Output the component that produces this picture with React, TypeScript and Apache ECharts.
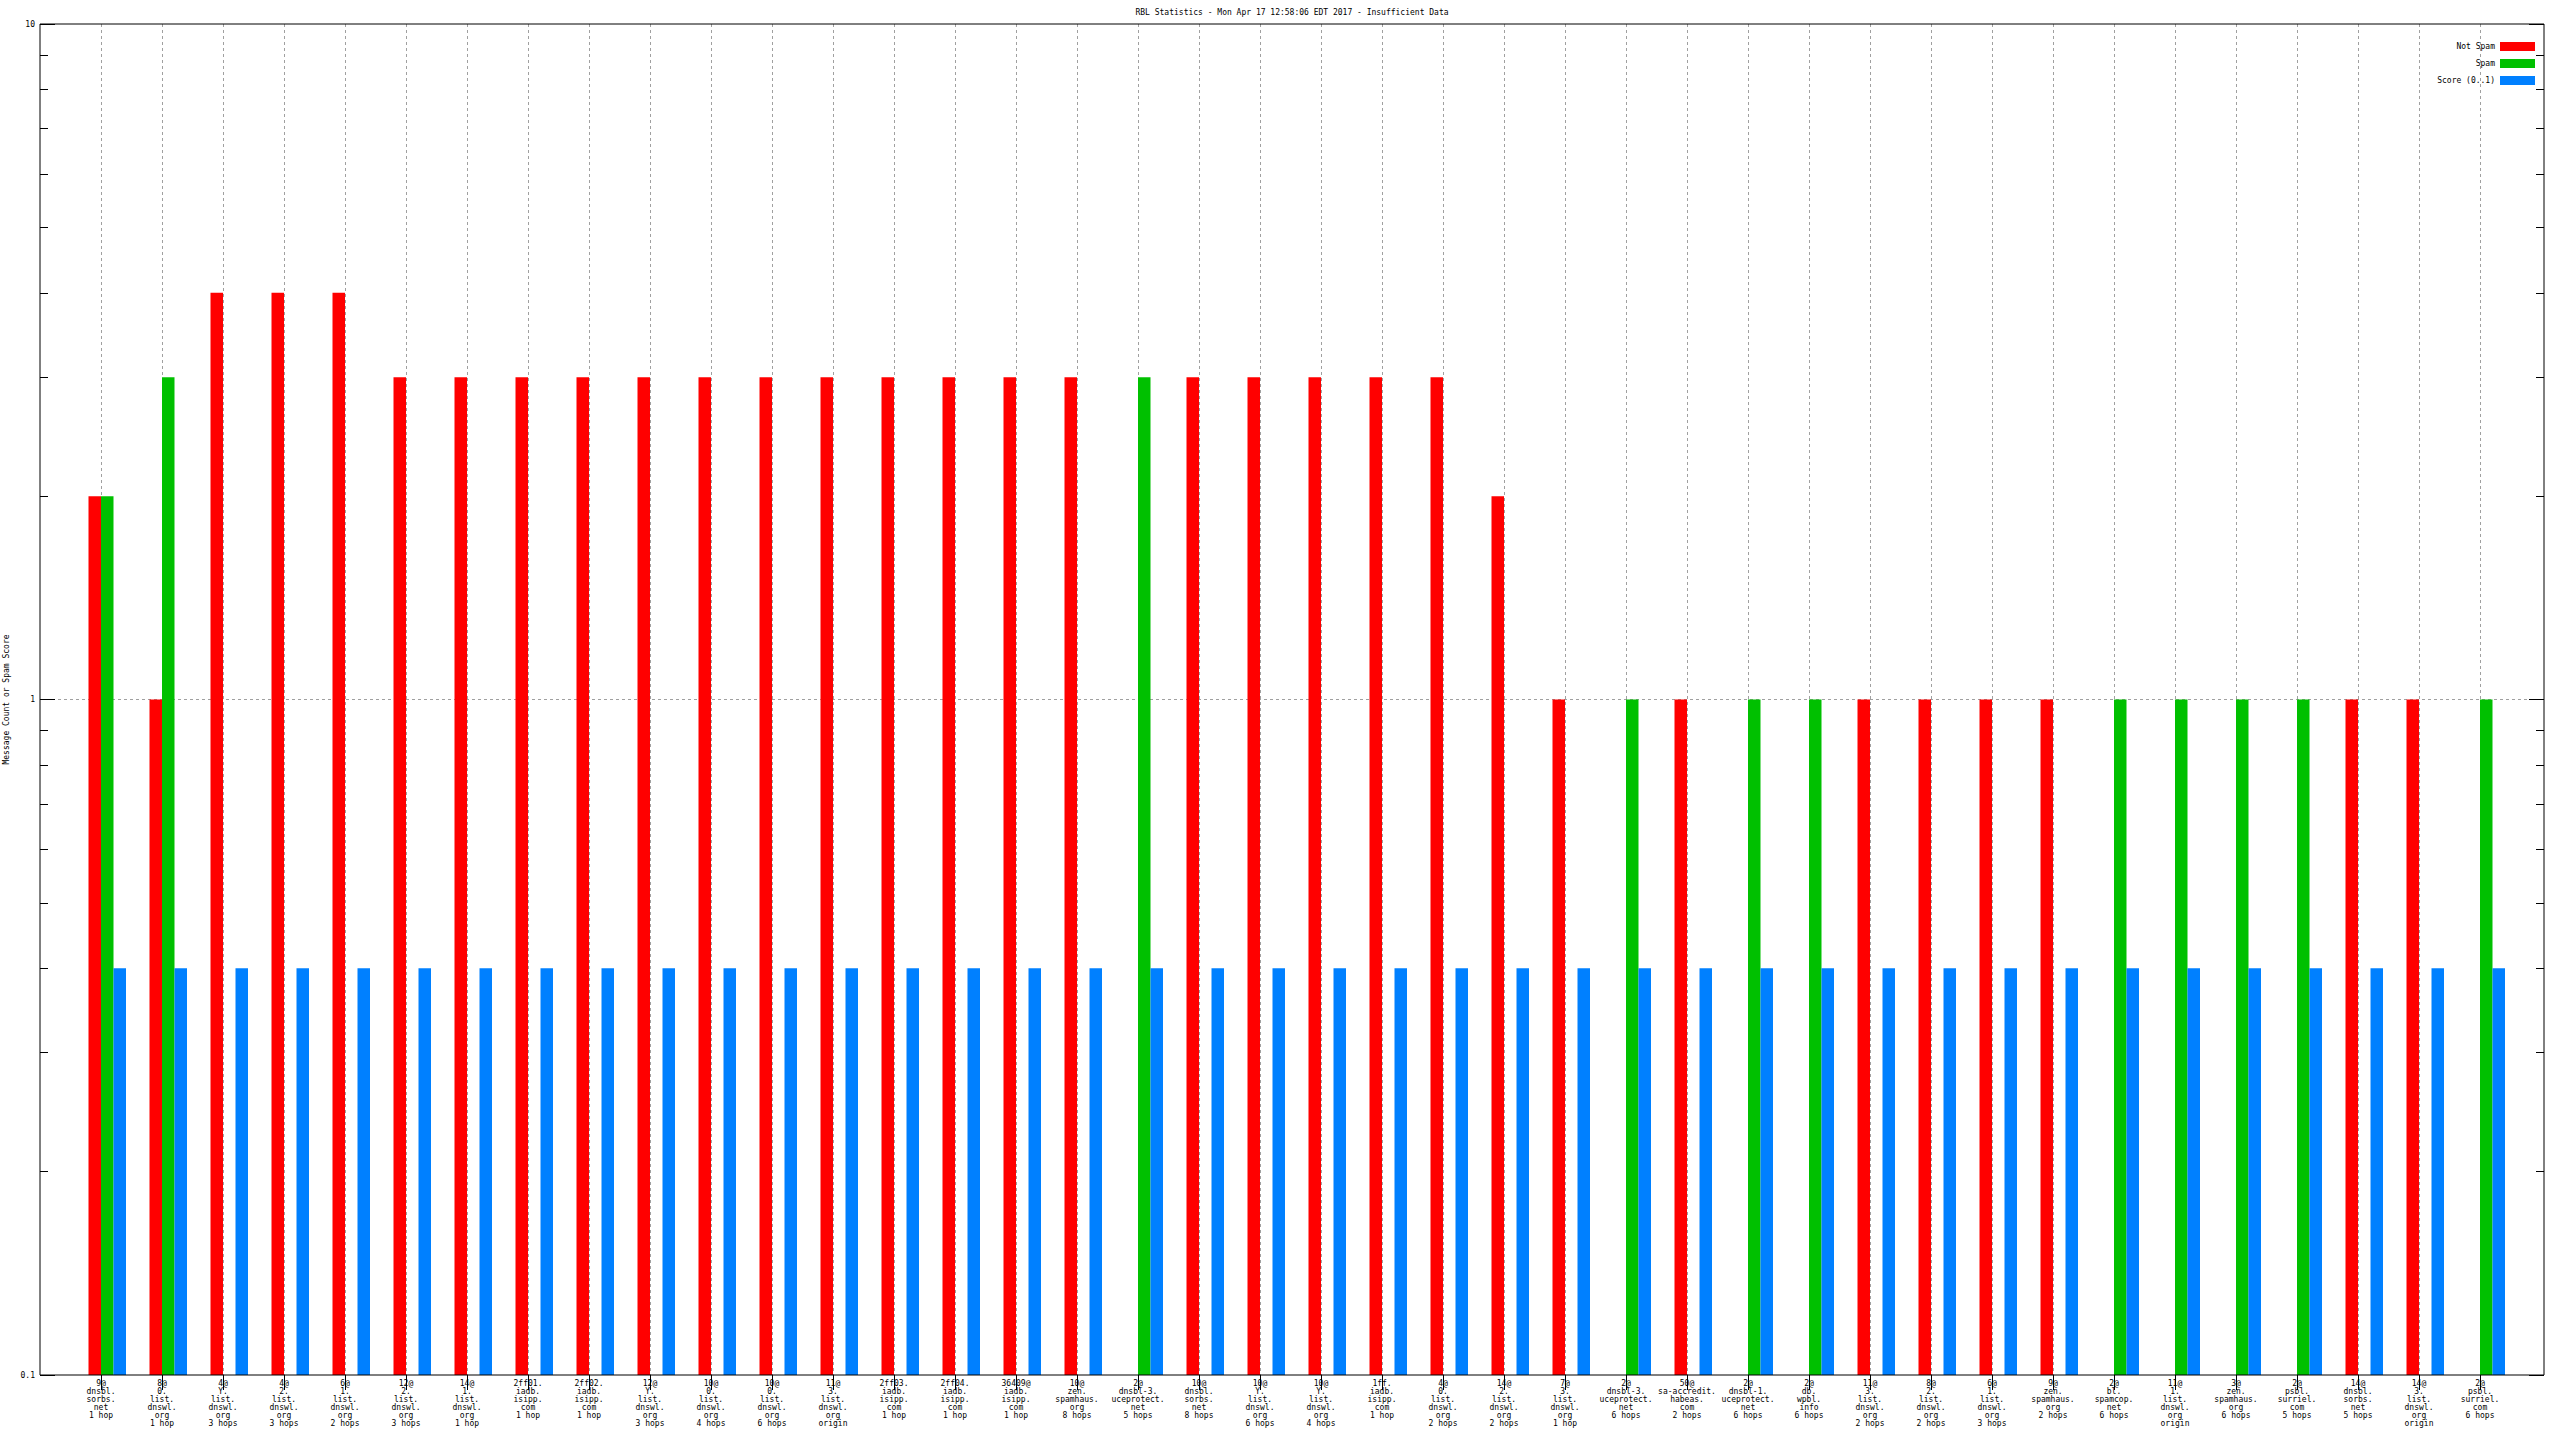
import React, { useEffect, useRef } from 'react';
import * as echarts from 'echarts';

const categories: string[] = [
  '9@\ndnsbl.\nsorbs.\nnet\n1 hop',
  '8@\n0.\nlist.\ndnswl.\norg\n1 hop',
  '4@\nY.\nlist.\ndnswl.\norg\n3 hops',
  '4@\n2.\nlist.\ndnswl.\norg\n3 hops',
  '6@\n1.\nlist.\ndnswl.\norg\n2 hops',
  '12@\n2.\nlist.\ndnswl.\norg\n3 hops',
  '14@\n1.\nlist.\ndnswl.\norg\n1 hop',
  '2ff01.\niadb.\nisipp.\ncom\n1 hop',
  '2ff02.\niadb.\nisipp.\ncom\n1 hop',
  '12@\nY.\nlist.\ndnswl.\norg\n3 hops',
  '10@\n0.\nlist.\ndnswl.\norg\n4 hops',
  '10@\n0.\nlist.\ndnswl.\norg\n6 hops',
  '11@\n3.\nlist.\ndnswl.\norg\norigin',
  '2ff03.\niadb.\nisipp.\ncom\n1 hop',
  '2ff04.\niadb.\nisipp.\ncom\n1 hop',
  '36409@\niadb.\nisipp.\ncom\n1 hop',
  '10@\nzen.\nspamhaus.\norg\n8 hops',
  '2@\ndnsbl-3.\nuceprotect.\nnet\n5 hops',
  '10@\ndnsbl.\nsorbs.\nnet\n8 hops',
  '10@\nY.\nlist.\ndnswl.\norg\n6 hops',
  '10@\nY.\nlist.\ndnswl.\norg\n4 hops',
  '1ff.\niadb.\nisipp.\ncom\n1 hop',
  '4@\n0.\nlist.\ndnswl.\norg\n2 hops',
  '14@\n2.\nlist.\ndnswl.\norg\n2 hops',
  '7@\n3.\nlist.\ndnswl.\norg\n1 hop',
  '2@\ndnsbl-3.\nuceprotect.\nnet\n6 hops',
  '50@\nsa-accredit.\nhabeas.\ncom\n2 hops',
  '2@\ndnsbl-1.\nuceprotect.\nnet\n6 hops',
  '2@\ndb.\nwpbl.\ninfo\n6 hops',
  '11@\n3.\nlist.\ndnswl.\norg\n2 hops',
  '8@\n2.\nlist.\ndnswl.\norg\n2 hops',
  '6@\n1.\nlist.\ndnswl.\norg\n3 hops',
  '9@\nzen.\nspamhaus.\norg\n2 hops',
  '2@\nbl.\nspamcop.\nnet\n6 hops',
  '11@\n1.\nlist.\ndnswl.\norg\norigin',
  '3@\nzen.\nspamhaus.\norg\n6 hops',
  '2@\npsbl.\nsurriel.\ncom\n5 hops',
  '14@\ndnsbl.\nsorbs.\nnet\n5 hops',
  '14@\n3.\nlist.\ndnswl.\norg\norigin',
  '2@\npsbl.\nsurriel.\ncom\n6 hops',
];

const notSpam: (number | null)[] = [
  2, 1, 4, 4, 4, 3, 3, 3, 3, 3,
  3, 3, 3, 3, 3, 3, 3, null, 3, 3,
  3, 3, 3, 2, 1, null, 1, null, null, 1,
  1, 1, 1, null, null, null, null, 1, 1, null,
];

const spam: (number | null)[] = [
  2, 3, null, null, null, null, null, null, null, null,
  null, null, null, null, null, null, null, 3, null, null,
  null, null, null, null, null, 1, null, 1, 1, null,
  null, null, null, 1, 1, 1, 1, null, null, 1,
];

const score: number[] = [
  0.4, 0.4, 0.4, 0.4, 0.4, 0.4, 0.4, 0.4, 0.4, 0.4,
  0.4, 0.4, 0.4, 0.4, 0.4, 0.4, 0.4, 0.4, 0.4, 0.4,
  0.4, 0.4, 0.4, 0.4, 0.4, 0.4, 0.4, 0.4, 0.4, 0.4,
  0.4, 0.4, 0.4, 0.4, 0.4, 0.4, 0.4, 0.4, 0.4, 0.4,
];

const placeholder: null[] = categories.map(() => null);

const yMin = 0.1;
const yMax = 10;
const majorTickValues = [0.1, 1, 10];
const minorTickValues = [0.2, 0.3, 0.4, 0.5, 0.6, 0.7, 0.8, 0.9, 2, 3, 4, 5, 6, 7, 8, 9];

const seriesNames = ['Not Spam', 'Spam', 'Score (0..1)'];
const titleText = 'RBL Statistics - Mon Apr 17 12:58:06 EDT 2017 - Insufficient Data';
const yName = 'Message Count or Spam Score';

const FONT = 'DejaVu Sans Mono';

export default function App() {
  const ref = useRef<HTMLDivElement>(null);

  useEffect(() => {
    document.body.style.margin = '0';
    if (!ref.current) return;
    const chart = echarts.init(ref.current, undefined, { renderer: 'svg' });

    const plotLeft = 40;
    const plotTop = 24;
    const plotWidth = 2504;
    const plotHeight = 1351;
    const band = 61;
    const firstCenter = 101;
    const n = categories.length;

    const logAxisBase = {
      type: 'log' as const,
      logBase: 10,
      min: yMin,
      max: yMax,
      gridIndex: 0,
      axisLine: { show: false },
    };

    const option: any = {
      animation: false,
      backgroundColor: '#ffffff',
      textStyle: { fontFamily: FONT },
      grid: [
        {
          left: plotLeft,
          top: plotTop,
          width: plotWidth,
          height: plotHeight,
          show: true,
          borderColor: '#000000',
          borderWidth: 1,
          backgroundColor: 'transparent',
          z: 5,
        },
        {
          left: firstCenter - band / 2,
          top: plotTop,
          width: band * n,
          height: plotHeight,
        },
        {
          left: firstCenter,
          top: plotTop,
          width: band * (n - 1),
          height: plotHeight,
        },
      ],
      xAxis: [
        { type: 'value', gridIndex: 0, min: 0, max: 1, show: false },
        {
          type: 'category',
          gridIndex: 1,
          data: categories,
          boundaryGap: true,
          axisLine: { show: false },
          axisTick: { show: false },
          splitLine: { show: false },
          axisLabel: {
            interval: 0,
            fontFamily: FONT,
            fontSize: 8,
            lineHeight: 8,
            color: '#000000',
            margin: 4,
            align: 'center',
          },
        },
        {
          type: 'category',
          gridIndex: 2,
          data: categories,
          position: 'top',
          boundaryGap: false,
          axisLine: { show: false },
          axisTick: { show: true, inside: true, length: 15, interval: 0, lineStyle: { color: '#000000', width: 1 } },
          axisLabel: { show: false },
          splitLine: { show: true, interval: 0, lineStyle: { color: '#a0a0a0', width: 1, type: [3, 3] } },
        },
      ],
      yAxis: [
        {
          ...logAxisBase,
          position: 'left',
          axisTick: { show: true, inside: true, length: 15, customValues: majorTickValues, lineStyle: { color: '#000000' } },
          axisLabel: {
            show: true,
            customValues: majorTickValues,
            fontFamily: FONT,
            fontSize: 8,
            color: '#000000',
            margin: 5,
            formatter: (v: number) => (v < 1 ? v.toFixed(1) : String(Math.round(v))),
          },
          splitLine: {
            show: true,
            showMinLine: false,
            showMaxLine: false,
            lineStyle: { color: '#a0a0a0', width: 1, type: [3, 3] },
          },
        },
        {
          ...logAxisBase,
          position: 'left',
          axisTick: { show: true, inside: true, length: 8, customValues: minorTickValues, lineStyle: { color: '#000000' } },
          axisLabel: { show: false },
          splitLine: { show: false },
        },
        {
          ...logAxisBase,
          position: 'right',
          axisTick: { show: true, inside: true, length: 15, customValues: majorTickValues, lineStyle: { color: '#000000' } },
          axisLabel: { show: false },
          splitLine: { show: false },
        },
        {
          ...logAxisBase,
          position: 'right',
          axisTick: { show: true, inside: true, length: 8, customValues: minorTickValues, lineStyle: { color: '#000000' } },
          axisLabel: { show: false },
          splitLine: { show: false },
        },
        {
          type: 'log',
          logBase: 10,
          min: yMin,
          max: yMax,
          startValue: yMin,
          gridIndex: 1,
          show: false,
        },
        { type: 'value', gridIndex: 2, show: false, min: 0, max: 1 },
      ],
      legend: {
        data: seriesNames,
        orient: 'vertical',
        align: 'right',
        right: 25,
        top: 42,
        padding: 0,
        itemWidth: 35,
        itemHeight: 9,
        itemGap: 8,
        icon: 'rect',
        selectedMode: false,
        textStyle: { fontFamily: FONT, fontSize: 8, color: '#000000', lineHeight: 9 },
      },
      graphic: [
        {
          type: 'text',
          x: plotLeft + plotWidth / 2,
          y: 12,
          style: {
            text: titleText,
            fontFamily: FONT,
            fontSize: 8,
            fill: '#000000',
            align: 'center',
            verticalAlign: 'middle',
          },
        },
        {
          type: 'text',
          x: 6,
          y: plotTop + plotHeight / 2,
          rotation: Math.PI / 2,
          style: {
            text: yName,
            fontFamily: FONT,
            fontSize: 8,
            fill: '#000000',
            align: 'center',
            verticalAlign: 'middle',
          },
        },
      ],
      series: [
        {
          name: '_gap',
          type: 'bar',
          xAxisIndex: 1,
          yAxisIndex: 4,
          data: placeholder,
          barWidth: 12.5,
          barGap: '0%',
          itemStyle: { color: 'transparent' },
          silent: true,
        },
        {
          name: seriesNames[0],
          type: 'bar',
          xAxisIndex: 1,
          yAxisIndex: 4,
          data: notSpam,
          barWidth: 12.5,
          barGap: '0%',
          itemStyle: { color: '#ff0000' },
        },
        {
          name: seriesNames[1],
          type: 'bar',
          xAxisIndex: 1,
          yAxisIndex: 4,
          data: spam,
          barWidth: 12.5,
          barGap: '0%',
          itemStyle: { color: '#00c000' },
        },
        {
          name: seriesNames[2],
          type: 'bar',
          xAxisIndex: 1,
          yAxisIndex: 4,
          data: score,
          barWidth: 12.5,
          barGap: '0%',
          itemStyle: { color: '#0080ff' },
        },
      ],
    };

    chart.setOption(option);
    return () => {
      chart.dispose();
    };
  }, []);

  return <div ref={ref} style={{ width: 2560, height: 1440 }} />;
}
